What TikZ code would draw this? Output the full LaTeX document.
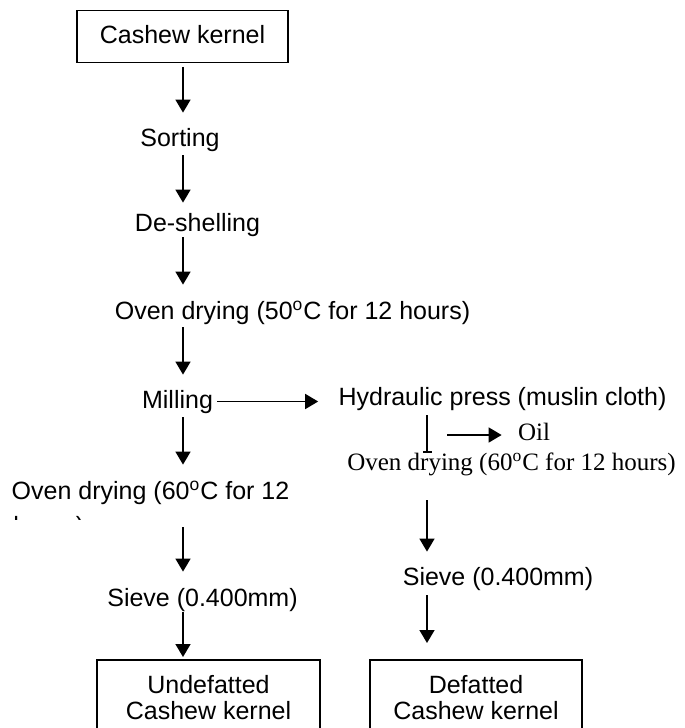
\documentclass[tikz,border=0pt]{standalone}
\usepackage{fontspec}
\setmainfont{Liberation Sans}
\newfontfamily\timesfont{Liberation Serif}
\usepackage{tikz}
\usetikzlibrary{arrows.meta}

\tikzset{
stage/.style={inner sep=0pt,text height=9pt,text depth=2.5pt,anchor=base},
startbox/.style={draw,line width=0.8pt,inner sep=0pt,minimum width=105.5pt,minimum height=26pt,text height=9pt,text depth=2.5pt},
product/.style={draw,line width=0.8pt,anchor=north,align=center,inner xsep=0pt,inner ysep=8pt},
flow/.style={line width=0.8pt,-{Triangle[length=6.5pt,width=7.5pt]}}
}

\begin{document}
\fontsize{12.5pt}{13pt}\selectfont
\begin{tikzpicture}[x=0.5pt,y=-0.5pt]
\useasboundingbox(0,0) rectangle (685,728);
\coordinate (colL) at (183,0);
\coordinate (colR) at (427,0);
\coordinate (oilsplit) at (447,435);
\node[startbox] (kernel) at (182.5,36.5) {Cashew kernel};
\node[stage] (sort) at (180,146) {Sorting};
\node[stage] (deshell) at (197.5,231) {De-shelling};
\node[stage] (dry1) at (292.5,319) {Oven drying (50\textsuperscript{o}C for 12 hours)};
\node[stage] (mill) at (177.5,408) {Milling};
\node[stage] (press) at (502.5,405) {Hydraulic press (muslin cloth)};
\node[stage,font=\timesfont] (oil) at (534,440) {Oil};
\node[stage,font=\timesfont] (dry2) at (511.5,470) {Oven drying (60\textsuperscript{o}C for 12 hours)};
\node[stage] (dry3) at (150.5,499) {Oven drying (60\textsuperscript{o}C for 12};
\begin{scope}
\clip(0,440) rectangle (300,519);
\node[stage,anchor=base west] (dry3b) at (13,534) {hours)};
\end{scope}
\node[stage] (sieve1) at (202.5,606) {Sieve (0.400mm)};
\node[stage] (sieve2) at (498,585) {Sieve (0.400mm)};
\node[product,minimum width=111.5pt] (undef) at (208.5,659) {Undefatted\\Cashew kernel};
\node[product,minimum width=106pt] (def) at (476,659) {Defatted\\Cashew kernel};

\draw[flow,shorten <=1.75pt,shorten >=7.5pt](kernel.south -| colL)--(sort.north -| colL);
\draw[flow,shorten <=2pt,shorten >=5pt](sort.south -| colL)--(deshell.north -| colL);
\draw[flow,shorten <=0.5pt,shorten >=8pt](deshell.south -| colL)--(dry1.north -| colL);
\draw[flow,shorten <=1.5pt,shorten >=7.5pt](dry1.south -| colL)--(mill.north -| colL);
\draw[flow,shorten <=2pt,shorten >=10pt](mill.east)--(mill.east -| press.west);
\draw[flow,shorten <=2pt,shorten >=8pt](mill.south -| colL)--(dry3.north -| colL);
\draw[flow,shorten <=11.5pt,shorten >=8pt](dry3.south -| colL)--(sieve1.north -| colL);
\draw[flow,shorten <=0.5pt,shorten >=1pt](sieve1.south -| colL)--(undef.north -| colL);
\draw[line width=0.8pt,-{Bar[width=4.5pt]},shorten <=2.5pt,shorten >=-0.5pt](press.south -| colR)--(dry2.north -| colR);
\draw[flow,shorten >=8pt](oilsplit)--(oilsplit -| oil.west);
\draw[flow,shorten <=12.5pt,shorten >=7.5pt](dry2.south -| colR)--(sieve2.north -| colR);
\draw[flow,shorten <=2.5pt,shorten >=8pt](sieve2.south -| colR)--(def.north -| colR);
\end{tikzpicture}
\end{document}
